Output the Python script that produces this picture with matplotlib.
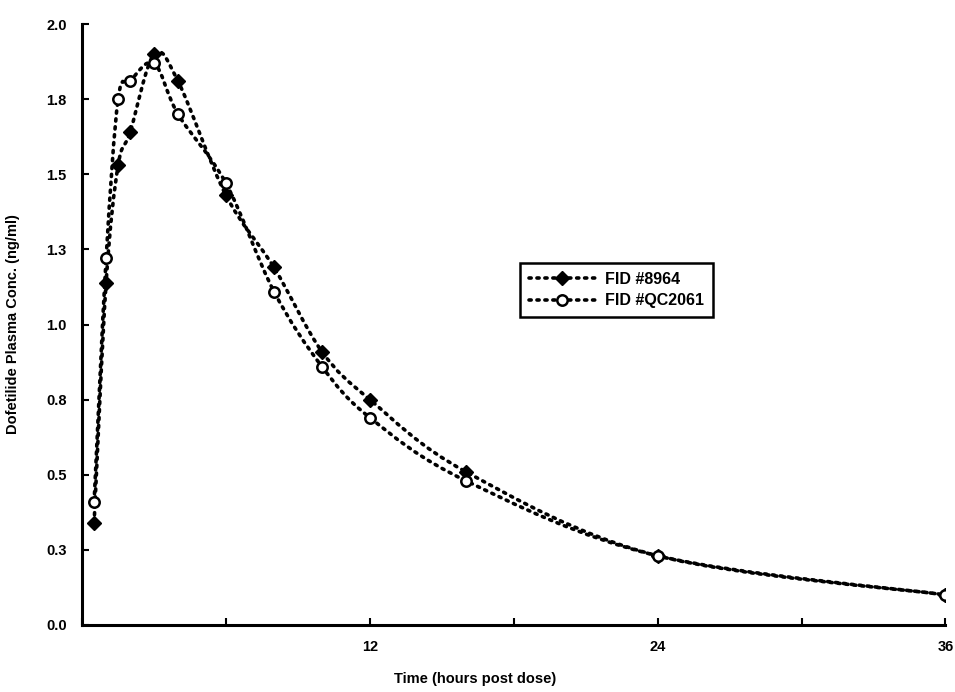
import numpy as np
import matplotlib
matplotlib.use('Agg')
import matplotlib.pyplot as plt
from matplotlib.path import Path
from matplotlib.patches import PathPatch
from matplotlib.lines import Line2D

# DATA
time_h = [0.5, 1, 1.5, 2, 3, 4, 6, 8, 10, 12, 16, 24, 36]
fid_8964 = [0.34, 1.14, 1.53, 1.64, 1.90, 1.81, 1.43, 1.19, 0.91, 0.75, 0.51, 0.23, 0.10]
fid_qc2061 = [0.41, 1.22, 1.75, 1.81, 1.87, 1.70, 1.47, 1.11, 0.86, 0.69, 0.48, 0.23, 0.10]
series_names = ['FID #8964', 'FID #QC2061']
y_ticks = [0, 0.25, 0.5, 0.75, 1.0, 1.25, 1.5, 1.75, 2.0]
y_tick_labels = ['0.0', '0.3', '0.5', '0.8', '1.0', '1.3', '1.5', '1.8', '2.0']
x_ticks = [0, 6, 12, 18, 24, 30, 36]
x_tick_labels = ['', '', '12', '', '24', '', '36']

plt.rcParams['font.family'] = ['Liberation Sans', 'DejaVu Sans']
plt.rcParams['font.weight'] = 'bold'

dot_style = (0, (0.6, 1.6))


def smooth_path(xs, ys):
    # excel style "smoothed line": cubic bezier segments through the points
    pts = np.column_stack([xs, ys]).astype(float)
    n = len(pts)
    verts = [pts[0]]
    codes = [Path.MOVETO]
    for i in range(n - 1):
        p0 = pts[i - 1] if i > 0 else pts[i]
        p1 = pts[i]
        p2 = pts[i + 1]
        p3 = pts[i + 2] if i + 2 < n else pts[i + 1]
        c1 = p1 + (p2 - p0) / 6.0
        c2 = p2 - (p3 - p1) / 6.0
        verts += [c1, c2, p2]
        codes += [Path.CURVE4] * 3
    return Path(verts, codes)


fig = plt.figure(figsize=(9.55, 6.92), dpi=100)
ax = fig.add_axes([0.086, 0.097, 0.904, 0.868])

for ys in [fid_8964, fid_qc2061]:
    patch = PathPatch(smooth_path(time_h, ys), facecolor='none', edgecolor='black',
                      linewidth=2.6, linestyle=dot_style, capstyle='round')
    ax.add_patch(patch)

ax.plot(time_h, fid_8964, linestyle='none', marker='D', markersize=7,
        markerfacecolor='black', markeredgecolor='black')
ax.plot(time_h, fid_qc2061, linestyle='none', marker='o', markersize=7.5,
        markerfacecolor='white', markeredgecolor='black', markeredgewidth=1.8)

ax.set_xlim(0, 36)
ax.set_ylim(0, 2.0)
ax.set_yticks(y_ticks)
ax.set_yticklabels(y_tick_labels)
ax.set_xticks(x_ticks)
ax.set_xticklabels(x_tick_labels)
ax.tick_params(axis='both', direction='in', length=5, width=1.5, labelsize=10.5)
ax.tick_params(axis='y', pad=11)
ax.tick_params(axis='x', pad=11)
for lab in ax.get_xticklabels() + ax.get_yticklabels():
    lab.set_fontweight('bold')

for side in ['top', 'right']:
    ax.spines[side].set_visible(False)
for side in ['left', 'bottom']:
    ax.spines[side].set_linewidth(2.2)

ax.set_ylabel('Dofetilide Plasma Conc. (ng/ml)', fontsize=10.5, fontweight='bold')
ax.yaxis.set_label_coords(-0.072, 0.5)
ax.set_xlabel('Time (hours post dose)', fontsize=10.5, fontweight='bold')
ax.xaxis.set_label_coords(0.455, -0.078)

handles = [
    Line2D([], [], color='black', linewidth=2.6, linestyle=dot_style, dash_capstyle='round',
           marker='D', markersize=7, markerfacecolor='black'),
    Line2D([], [], color='black', linewidth=2.6, linestyle=dot_style, dash_capstyle='round',
           marker='o', markersize=7.5, markerfacecolor='white', markeredgewidth=1.8),
]
leg = ax.legend(handles, series_names, loc='upper left', bbox_to_anchor=(0.507, 0.602),
                borderaxespad=0, fancybox=False, edgecolor='black', framealpha=1,
                fontsize=11.5, handlelength=4.2, handletextpad=0.6,
                borderpad=0.55, labelspacing=0.4)
leg.get_frame().set_linewidth(1.8)
for t in leg.get_texts():
    t.set_fontweight('bold')

fig.savefig('out.png', dpi=100)
